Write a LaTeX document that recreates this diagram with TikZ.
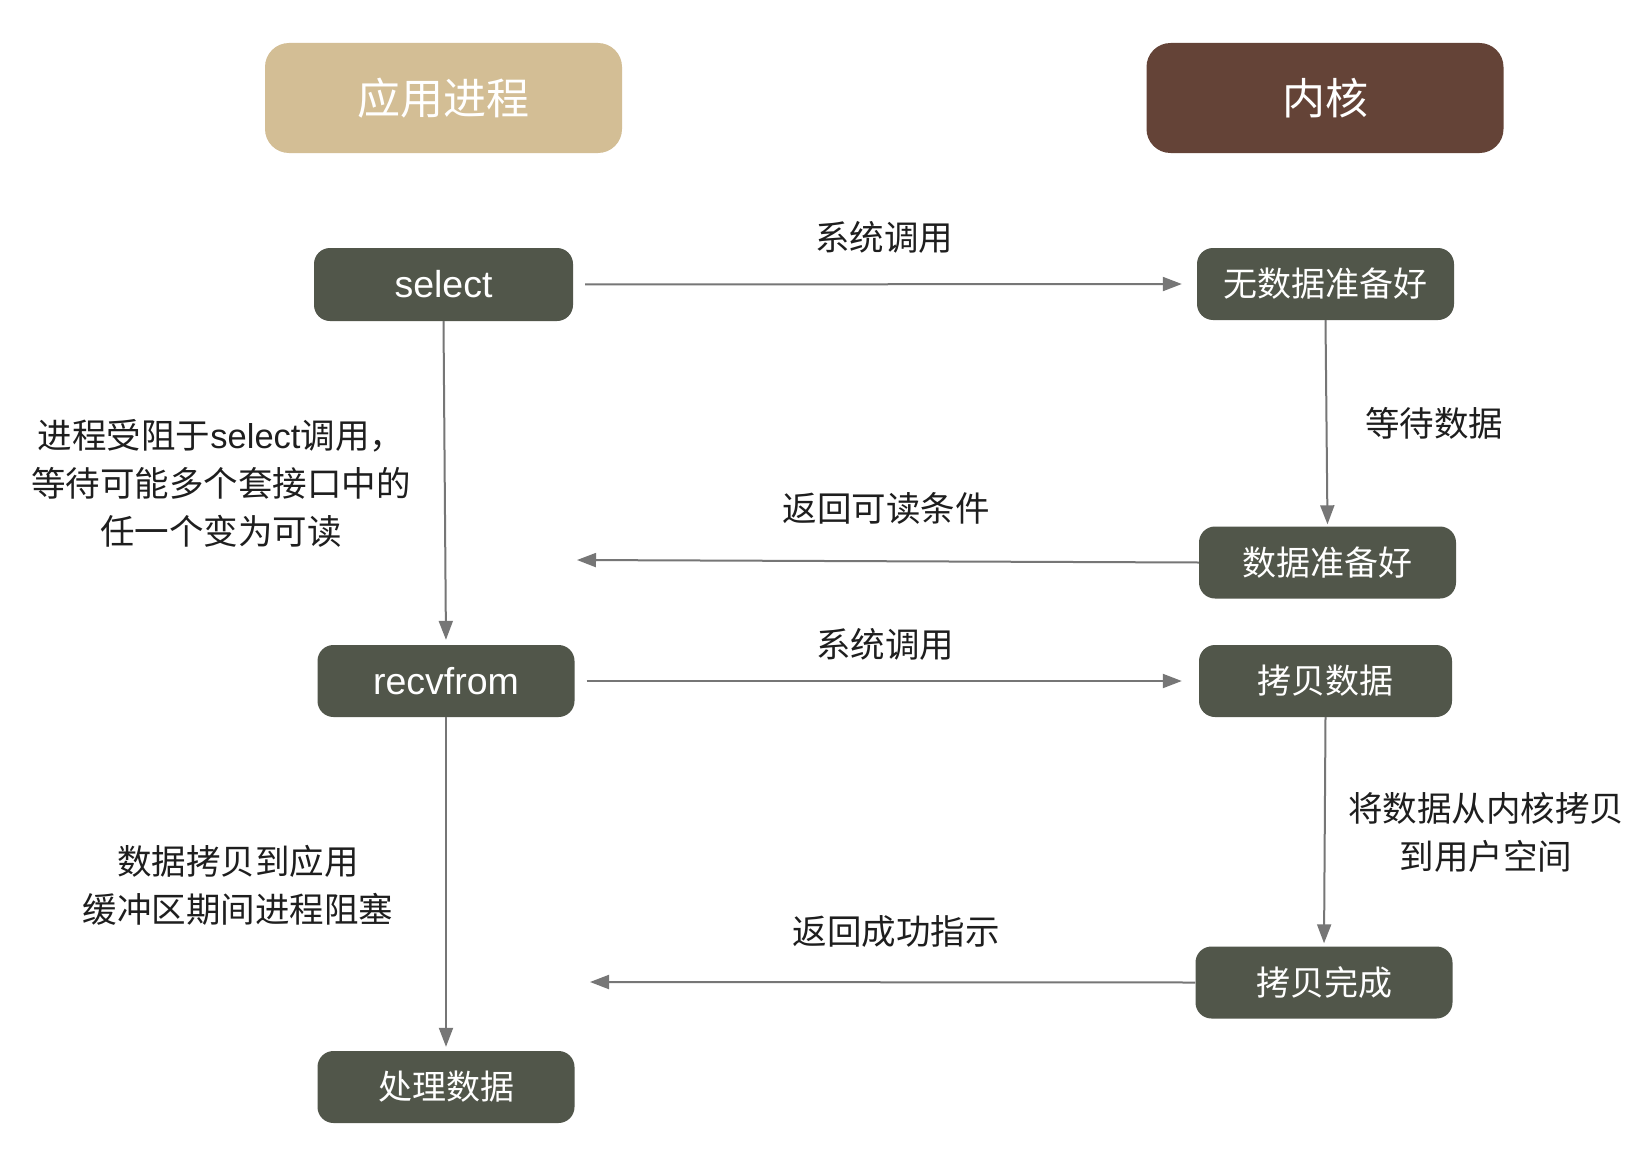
\documentclass[tikz,border=0pt]{standalone}
\usepackage{fontspec}
\setmainfont{Noto Sans CJK SC}
\newfontfamily\latinfont{Liberation Sans}
\usetikzlibrary{arrows.meta}

\definecolor{appcol}{HTML}{D3BE95}
\definecolor{kerncol}{HTML}{644337}
\definecolor{stepcol}{HTML}{51564A}
\definecolor{linecol}{HTML}{767676}
\definecolor{txtcol}{HTML}{1E1E1E}

\tikzset{
  header/.style={fill=#1, rounded corners=24pt, minimum width=357pt, minimum height=110pt,
    text=white, font=\fontsize{43}{50}\selectfont, inner sep=0pt},
  stepbox/.style={fill=stepcol, rounded corners=16pt, minimum width=257pt, minimum height=72pt,
    text=white, font=\fontsize{34}{40}\selectfont, inner sep=0pt},
  callbox/.style={stepbox, font=\latinfont\fontsize{37.5}{42}\selectfont},
  lbl/.style={text=txtcol, font=\fontsize{34.5}{48}\selectfont, align=center, inner sep=0pt},
  flow/.style={draw=linecol, line width=2pt, -{Triangle[length=19pt,width=14pt]}},
}

\begin{document}
\begin{tikzpicture}[x=1pt,y=-1pt]
  \useasboundingbox[fill=white] (0,0) rectangle (1636,1156);

  % column headers
  \node[header=appcol] (app) at (443.5,98) {应用进程};
  \node[header=kerncol] (kern) at (1325,98) {内核};

  % application side
  \node[callbox, minimum width=259pt, minimum height=73pt] (sel) at (443.5,284.5) {select};
  \node[callbox] (recv) at (446,681) {recvfrom};
  \node[stepbox] (proc) at (446,1087) {处理数据};

  % kernel side
  \node[stepbox] (nodata) at (1325.5,284) {无数据准备好};
  \node[stepbox] (ready) at (1327.5,562.5) {数据准备好};
  \node[stepbox, minimum width=253pt] (copy) at (1325.5,681) {拷贝数据};
  \node[stepbox] (done) at (1324,982.5) {拷贝完成};

  % free ends of the return arrows
  \coordinate (ret1) at (577,560);
  \coordinate (ret2) at (590,982);

  % connectors
  \draw[flow, shorten <=12pt, shorten >=15pt] (sel.east) -- (nodata.west);
  \draw[flow, shorten >=2pt] (nodata.south) -- (ready.north);
  \draw[flow] (ready.west) -- (ret1);
  \draw[flow, shorten >=5pt] (sel.south) -- (recv.north);
  \draw[flow, shorten <=12pt, shorten >=17pt] (recv.east) -- (copy.west);
  \draw[flow, shorten >=3pt] (copy.south) -- (done.north);
  \draw[flow] (done.west) -- (ret2);
  \draw[flow, shorten >=4pt] (recv.south) -- (proc.north);

  % labels
  \node[lbl] (l1) at (884,237) {系统调用};
  \node[lbl] (l2) at (1434,423) {等待数据};
  \node[lbl] (l3) at (886,508) {返回可读条件};
  \node[lbl] (l4) at (885,644) {系统调用};
  \node[lbl] (l5) at (1486,832) {将数据从内核拷贝\\到用户空间};
  \node[lbl] (l6) at (896,932) {返回成功指示};
  \node[lbl] (l7) at (221,483) {进程受阻于{\latinfont select}调用，\\等待可能多个套接口中的\\任一个变为可读};
  \node[lbl] (l8) at (238,885) {数据拷贝到应用\\缓冲区期间进程阻塞};
\end{tikzpicture}
\end{document}
